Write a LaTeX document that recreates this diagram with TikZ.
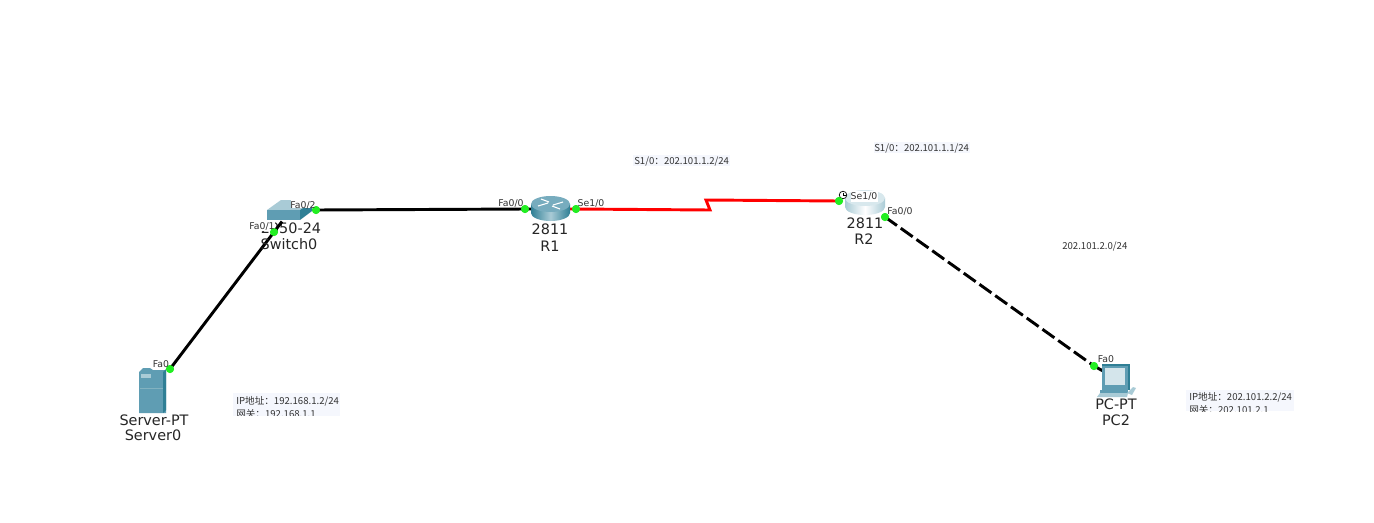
\documentclass[tikz,border=0pt]{standalone}
\usepackage{fontspec}
\setmainfont{DejaVu Sans}
\newfontfamily\cjkf{Noto Sans CJK SC}
\usetikzlibrary{calc}
\definecolor{teal1}{HTML}{5F9DB3}
\definecolor{teal2}{HTML}{2F7F95}
\definecolor{teal3}{HTML}{A9CBD6}
\definecolor{portg}{HTML}{22EE22}
\definecolor{noteb}{HTML}{F5F7FD}
\definecolor{txt}{HTML}{333333}
\tikzset{
 port/.style={circle,fill=portg,draw=none,inner sep=0pt,minimum size=8*0.75pt},
 lbl/.style={inner sep=0pt,font=\fontsize{7}{8}\selectfont,text=txt},
 dev/.style={inner sep=0pt,font=\fontsize{10.8}{12}\selectfont,text=black!85},
 note/.style={inner sep=0pt,anchor=west,yshift=-1pt,font=\cjkf\fontsize{7.2}{8}\selectfont,text=txt},
 eth/.style={line width=2.2pt,black},
 ser/.style={line width=2.2pt,red}
}
\begin{document}
\begin{tikzpicture}[x=0.75pt,y=-0.75pt]
\useasboundingbox (0,0) rectangle (1374,522);
\fill[white] (0,0) rectangle (1374,522);
% ports
\node[port] (sv) at (170,369) {};
\node[port] (swa) at (274,232) {};
\node[port] (swb) at (316,210) {};
\node[port] (r1a) at (525,209) {};
\node[port] (r1b) at (576,209) {};
\node[port] (r2a) at (839,201) {};
\node[port] (r2b) at (885,217) {};
\node[port] (pc) at (1094,366) {};
\coordinate (z1) at (710,210);
\coordinate (z2) at (706,200);
\coordinate (swin) at (282,221.5);
\coordinate (r1in) at (532,209);
\coordinate (r1out) at (570,209);
\coordinate (pcin) at (1103,371);
% connectors
\draw[eth] (sv.center) -- (swa.center);
\draw[eth] (swb.center) -- (r1a.center) -- (r1in);
\draw[eth,dash pattern=on 11pt off 3.5pt] (r2b.center) -- (pc.center);
\draw[eth] (pc.center) -- (pcin);
\draw[ser] (r1out) -- (r1b.center) -- (z1) -- (z2) -- (r2a.center);
% server
\fill[teal1] (139,372) -- (143,368) -- (150,368) -- (153,370) -- (166,370) -- (166,413) -- (139,413) -- cycle;
\fill[teal2] (163,372) -- (166,369) -- (166,410) -- (163,413) -- cycle;
\fill[teal3] (141,374) rectangle (151,378);
\draw[teal2!60,line width=0.4pt] (140,388) -- (163,388);
% switch
\fill[teal3] (267,210) -- (281,200) -- (315,200) -- (300,210) -- cycle;
\fill[teal1] (267,210) rectangle (300,220);
\fill[teal2] (300,210) -- (312,202) -- (312,211) -- (300,220) -- cycle;
\fill[white] (291,200) rectangle (316,208);
% router R1
\shade[left color=teal2,right color=teal2,middle color=teal3] (531,204) -- (531,213) arc[start angle=180,end angle=0,x radius=19.5,y radius=8] -- (570,204) -- cycle;
\fill[teal1!85] (550.5,204) ellipse[x radius=19.5,y radius=8];
\draw[white,line width=0.8pt] (538,206) -- (548,203) (553,205) -- (563,202) (541,199) -- (549,202) (552,206) -- (560,209);
% router R2
\shade[left color=teal3,right color=teal3,middle color=white] (845,198) -- (845,207) arc[start angle=180,end angle=0,x radius=20,y radius=8] -- (885,198) -- cycle;
\fill[teal3!45] (865,198) ellipse[x radius=20,y radius=8];
\fill[white] (851,191) rectangle (878,202);
% clock
\draw[fill=white,line width=0.5pt] (843,195) circle[radius=3.8];
\draw[line width=0.5pt] (843,192.5) -- (843,195) -- (845.5,195);
% PC
\fill[teal2] (1102,364) -- (1130,364) -- (1130,390) -- (1102,390) -- cycle;
\fill[teal1] (1102,366) rectangle (1128,390);
\fill[teal3!50] (1105,368) rectangle (1125,385);
\fill[teal1] (1100,390) -- (1128,390) -- (1128,393) -- (1100,393) -- cycle;
\fill[teal3] (1100,393) -- (1128,393) -- (1127,397) -- (1097,397) -- cycle;
\fill[teal3] (1127,393) -- (1133,387) -- (1136,388) -- (1132,395) -- cycle;
% device labels
\node[dev] (n1) at (154,420) {Server-PT};
\node[dev] (n2) at (153,435) {Server0};
\node[dev] (n3) at (291,228) {2950-24};
\node[dev] (n4) at (289,244) {Switch0};
\node[dev] (n5) at (550,229) {2811};
\node[dev] (n6) at (550,246) {R1};
\node[dev] (n7) at (865,223) {2811};
\node[dev] (n8) at (864,239) {R2};
\node[dev] (n9) at (1116,404) {PC-PT};
\node[dev] (n10) at (1116,420) {PC2};
\fill[white] (249,220.5) rectangle (275,230.5);
\draw[eth] (swa.center) -- (swin);
% port dots on top
\node[port] at (sv) {};\node[port] at (swa) {};\node[port] at (swb) {};\node[port] at (r1a) {};\node[port] at (r1b) {};\node[port] at (r2a) {};\node[port] at (r2b) {};\node[port] at (pc) {};
% port labels
\node[lbl] (p1) at (161,364) {Fa0};
\node[lbl] (p2) at (262,226) {Fa0/1};
\node[lbl] (p3) at (303,205) {Fa0/2};
\node[lbl] (p4) at (511,203) {Fa0/0};
\node[lbl] (p5) at (591,203) {Se1/0};
\node[lbl] (p6) at (864,196) {Se1/0};
\node[lbl] (p7) at (900,211) {Fa0/0};
\node[lbl] (p8) at (1106,359) {Fa0};
% notes
\fill[noteb] (633,155) rectangle (730,166);
\node[note] (t1) at (634,160) {S1/0：202.101.1.2/24};
\fill[noteb] (874,142) rectangle (970,153);
\node[note] (t2) at (874,147) {S1/0：202.101.1.1/24};
\node[note] (t3) at (1062,245) {202.101.2.0/24};
\begin{scope}
\clip (233,393) rectangle (340,415.5);
\fill[noteb] (233,393) rectangle (340,416);
\node[note] (t4) at (236,400) {IP地址：192.168.1.2/24};
\node[note] (t5) at (236,413) {网关：192.168.1.1};
\end{scope}
\begin{scope}
\clip (1186,390) rectangle (1294,411);
\fill[noteb] (1186,390) rectangle (1294,411);
\node[note] (t6) at (1189,396) {IP地址：202.101.2.2/24};
\node[note] (t7) at (1189,409) {网关：202.101.2.1};
\end{scope}
\end{tikzpicture}
\end{document}
